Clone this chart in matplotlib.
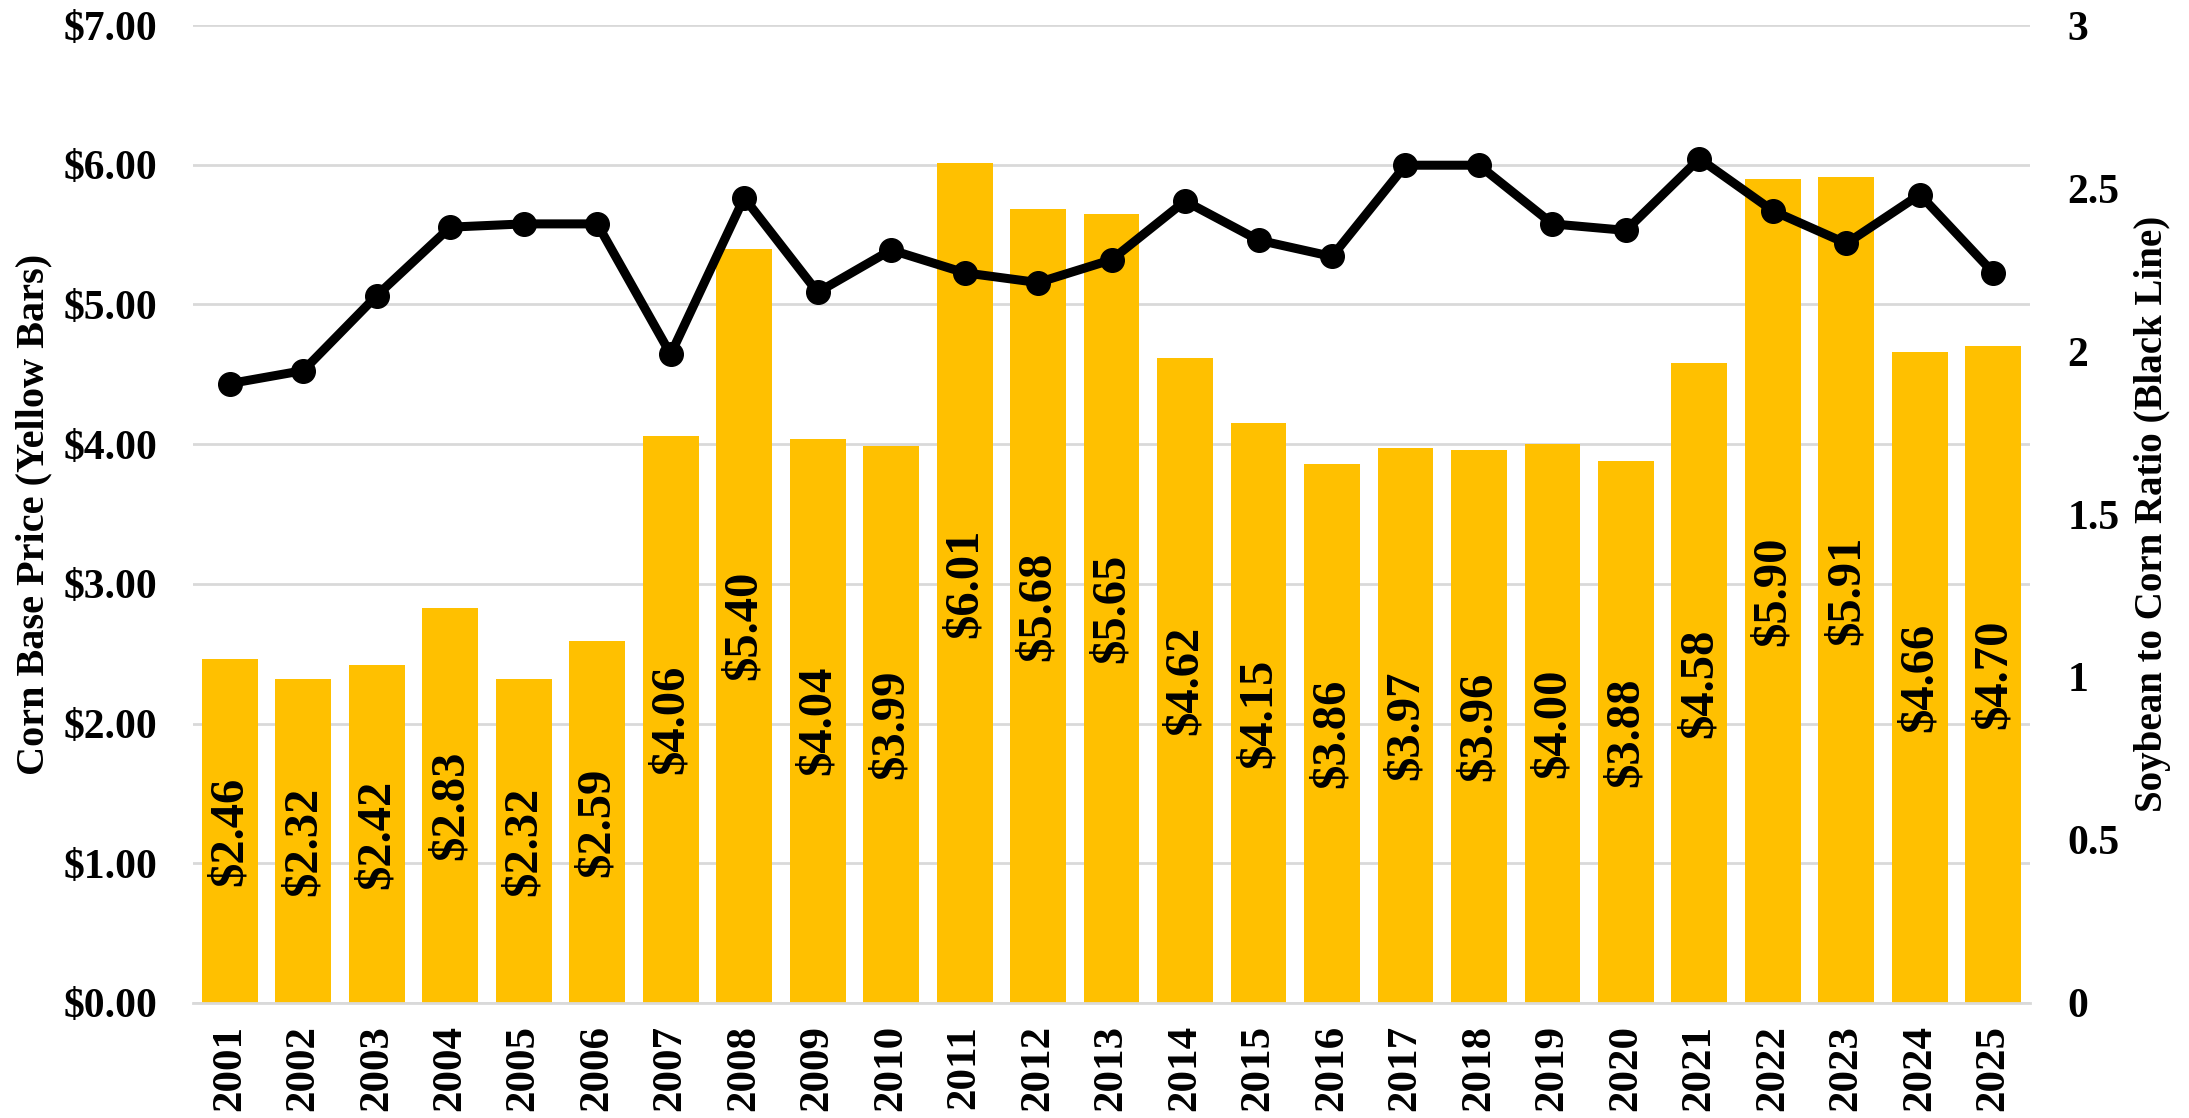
import numpy as np
import matplotlib
matplotlib.use("Agg")
import matplotlib.pyplot as plt

years = [str(y) for y in range(2001, 2026)]
corn_price = [2.46, 2.32, 2.42, 2.83, 2.32, 2.59, 4.06, 5.40, 4.04, 3.99,
              6.01, 5.68, 5.65, 4.62, 4.15, 3.86, 3.97, 3.96, 4.00, 3.88,
              4.58, 5.90, 5.91, 4.66, 4.70]
soy_corn_ratio = [1.90, 1.94, 2.17, 2.38, 2.39, 2.39, 1.99, 2.47, 2.18, 2.31,
                  2.24, 2.21, 2.28, 2.46, 2.34, 2.29, 2.57, 2.57, 2.39, 2.37,
                  2.59, 2.43, 2.33, 2.48, 2.24]

plt.rcParams['font.family'] = ['Liberation Serif', 'DejaVu Serif']

fig = plt.figure(figsize=(21.89, 11.18), dpi=100)
ax = fig.add_axes([0.0882, 0.1029, 0.8392, 0.8747])
x = np.arange(len(years))

ax.bar(x, corn_price, width=0.76, color="#FFC000", zorder=2)
for xi, v in zip(x, corn_price):
    ax.text(xi, v / 2, "${:.2f}".format(v), rotation=90, ha="center", va="center",
            fontsize=35, fontweight="bold", color="black", zorder=3)

ax.set_xlim(-0.5, len(years) - 0.5)
ax.set_ylim(0, 7)
ax.set_yticks(np.arange(0, 8, 1))
ax.set_yticklabels(["${:.2f}".format(v) for v in range(8)], fontsize=30, fontweight="bold")
ax.set_xticks(x)
ax.set_xticklabels(years, rotation=90, fontsize=31, fontweight="bold")
ax.grid(axis="y", color="#D9D9D9", linewidth=2, zorder=0)
ax.set_axisbelow(True)
for s in ["top", "right", "left"]:
    ax.spines[s].set_visible(False)
ax.spines["bottom"].set_color("#D9D9D9")
ax.spines["bottom"].set_linewidth(2)
ax.tick_params(axis="y", length=0, pad=26)
ax.tick_params(axis="x", length=0, pad=16)
ax.set_ylabel("Corn Base Price (Yellow Bars)", fontsize=29, fontweight="bold", labelpad=8)

ax2 = ax.twinx()
ax2.plot(x, soy_corn_ratio, color="black", linewidth=6.5, marker="o", markersize=17, zorder=4)
ax2.set_ylim(0, 3)
ax2.set_yticks([0, 0.5, 1, 1.5, 2, 2.5, 3])
ax2.set_yticklabels(["0", "0.5", "1", "1.5", "2", "2.5", "3"], fontsize=30, fontweight="bold")
for s in ["top", "right", "left", "bottom"]:
    ax2.spines[s].set_visible(False)
ax2.tick_params(axis="y", length=0, pad=27)
ax2.set_ylabel("Soybean to Corn Ratio (Black Line)", fontsize=28, fontweight="bold", labelpad=10)

fig.savefig("out.png", dpi=100)
